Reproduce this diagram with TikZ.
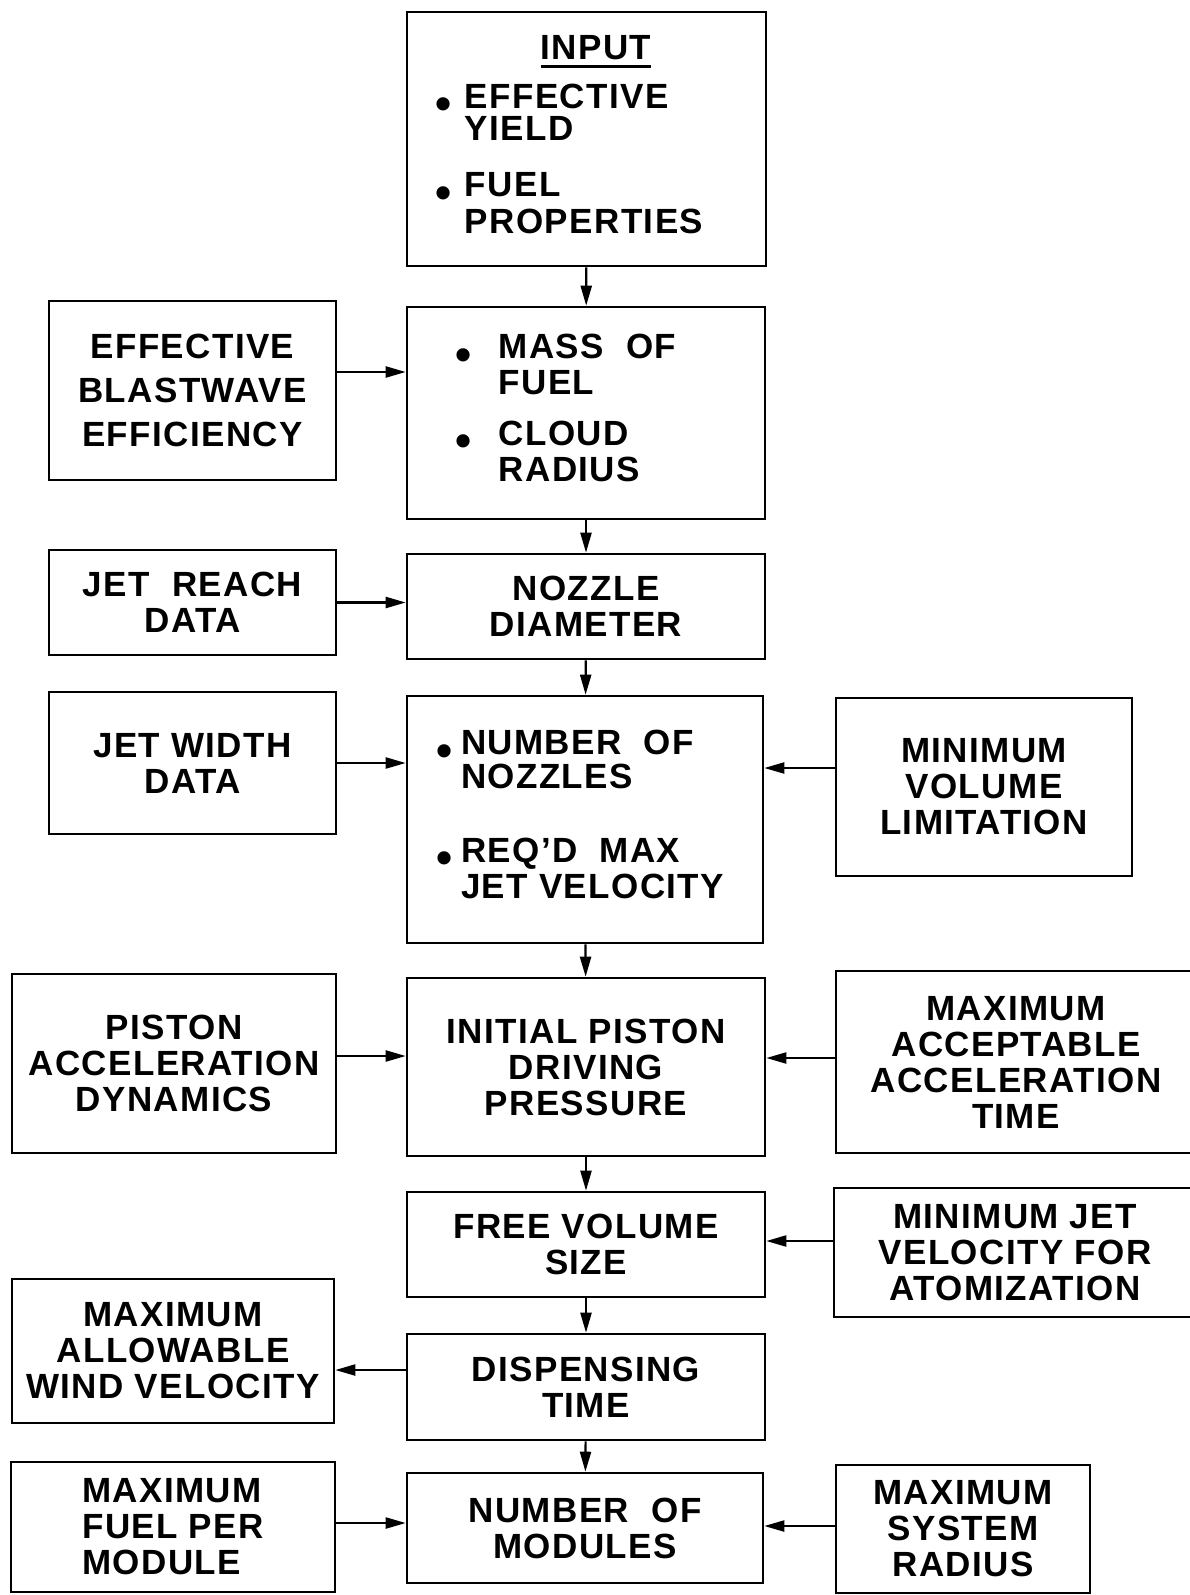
\documentclass[tikz,border=0pt]{standalone}
\usepackage{fontspec}
\setmainfont{Liberation Sans}[LetterSpace=4]
\usetikzlibrary{arrows.meta,positioning}
\newcommand{\ibul}{\raisebox{-11.5pt}{\fontsize{46}{46}\selectfont\textbullet}}
\newcommand{\undl}[1]{\setbox0=\hbox{#1}\rlap{\rule[-9pt]{\wd0}{3pt}}\box0}

\begin{document}
\begin{tikzpicture}[x=1pt, y=-1pt,
  font=\fontsize{35}{36}\selectfont\bfseries,
  blk/.style={draw, line width=2.6pt, align=center, inner sep=0pt},
  arr/.style={line width=2.2pt, -{Triangle[length=20pt,width=11pt]}}]
\fill[white] (0,0) rectangle (1190,1595);
\useasboundingbox (0,0) rectangle (1190,1595);
% main column
\node[blk, minimum width=359pt, minimum height=254pt] (input) at (586.5,139)
  {\begin{tabular}{@{}l@{\hspace{13pt}}l@{\hspace{34pt}}}
   \multicolumn{2}{c}{\hspace{19pt}\undl{INPUT}}\\[13pt]
   \ibul & EFFECTIVE\\[-4pt]
         & YIELD\\[20pt]
   \ibul & FUEL\\
         & PROPERTIES
   \end{tabular}};
\node[blk, minimum width=358pt, minimum height=212pt] (mass) at (586,413)
  {\begin{tabular}{@{}l@{\hspace{27pt}}l@{\hspace{40pt}}}
   \ibul & MASS\ \ OF\\[-1pt]
         & FUEL\\[15pt]
   \ibul & CLOUD\\
         & RADIUS
   \end{tabular}};
\node[blk, minimum width=358pt, minimum height=105pt] (diam) at (586,606.5) {NOZZLE\\DIAMETER};
\node[blk, minimum width=356pt, minimum height=247pt] (nozzles) at (585,819.5)
  {\begin{tabular}{@{}l@{\hspace{8pt}}l@{\hspace{9pt}}}
   \ibul & NUMBER\ \ OF\\[-3pt]
         & NOZZLES\\[38pt]
   \ibul & REQ'D\ \ MAX\\
         & JET VELOCITY
   \end{tabular}};
\node[blk, minimum width=358pt, minimum height=178pt] (press) at (586,1067) {INITIAL PISTON\\DRIVING\\PRESSURE};
\node[blk, minimum width=358pt, minimum height=105pt] (freevol) at (586,1244.5) {FREE VOLUME\\SIZE};
\node[blk, minimum width=358pt, minimum height=106pt] (disp) at (586,1387) {DISPENSING\\TIME};
\node[blk, minimum width=356pt, minimum height=110pt] (modules) at (585,1528) {NUMBER\ \ OF\\MODULES};
% left column
\node[blk, minimum width=287pt, minimum height=179pt] (blast) at (192.5,390.5) {EFFECTIVE\\[8pt]BLASTWAVE\\[8pt]EFFICIENCY};
\node[blk, minimum width=287pt, minimum height=105pt] (reach) at (192.5,602.5) {JET\ \ REACH\\DATA};
\node[blk, minimum width=287pt, minimum height=142pt] (width) at (192.5,763) {JET WIDTH\\DATA};
\node[blk, minimum width=324pt, minimum height=179pt] (piston) at (174,1063.5) {PISTON\\ACCELERATION\\DYNAMICS};
\node[blk, minimum width=322pt, minimum height=144pt] (wind) at (173,1351) {MAXIMUM\\ALLOWABLE\\WIND VELOCITY};
\node[blk, minimum width=324pt, minimum height=130pt, align=left] (maxfuel) at (173,1527) {MAXIMUM\\FUEL PER\\MODULE};
% right column
\node[blk, minimum width=296pt, minimum height=178pt] (minvol) at (984,787) {MINIMUM\\VOLUME\\LIMITATION};
\node[blk, minimum width=360pt, minimum height=182pt] (accel) at (1016,1062) {MAXIMUM\\ACCEPTABLE\\ACCELERATION\\TIME};
\node[blk, minimum width=362pt, minimum height=129pt] (minjet) at (1015,1252.5) {MINIMUM JET\\VELOCITY FOR\\ATOMIZATION};
\node[blk, minimum width=254pt, minimum height=128pt] (radius) at (963,1529) {MAXIMUM\\SYSTEM\\RADIUS};
% connectors
\foreach \src/\dst in {input/mass, mass/diam, diam/nozzles, nozzles/press, press/freevol, freevol/disp, disp/modules}
  \draw[arr] (\src) -- (\dst);
\foreach \src/\dst/\dy in {blast/mass/18.5pt, reach/diam/0pt, width/nozzles/0pt, piston/press/7.5pt, maxfuel/modules/4pt}
  \draw[arr] ([yshift=\dy]\src.east) coordinate (p) -- (p -| \dst.west);
\foreach \src/\dst/\dy in {minvol/nozzles/19pt, accel/press/4pt, minjet/freevol/11.5pt, radius/modules/3pt}
  \draw[arr] ([yshift=\dy]\src.west) coordinate (p) -- (p -| \dst.east);
\draw[arr] ([yshift=17pt]disp.west) coordinate (p) -- (p -| wind.east);
\end{tikzpicture}
\end{document}
